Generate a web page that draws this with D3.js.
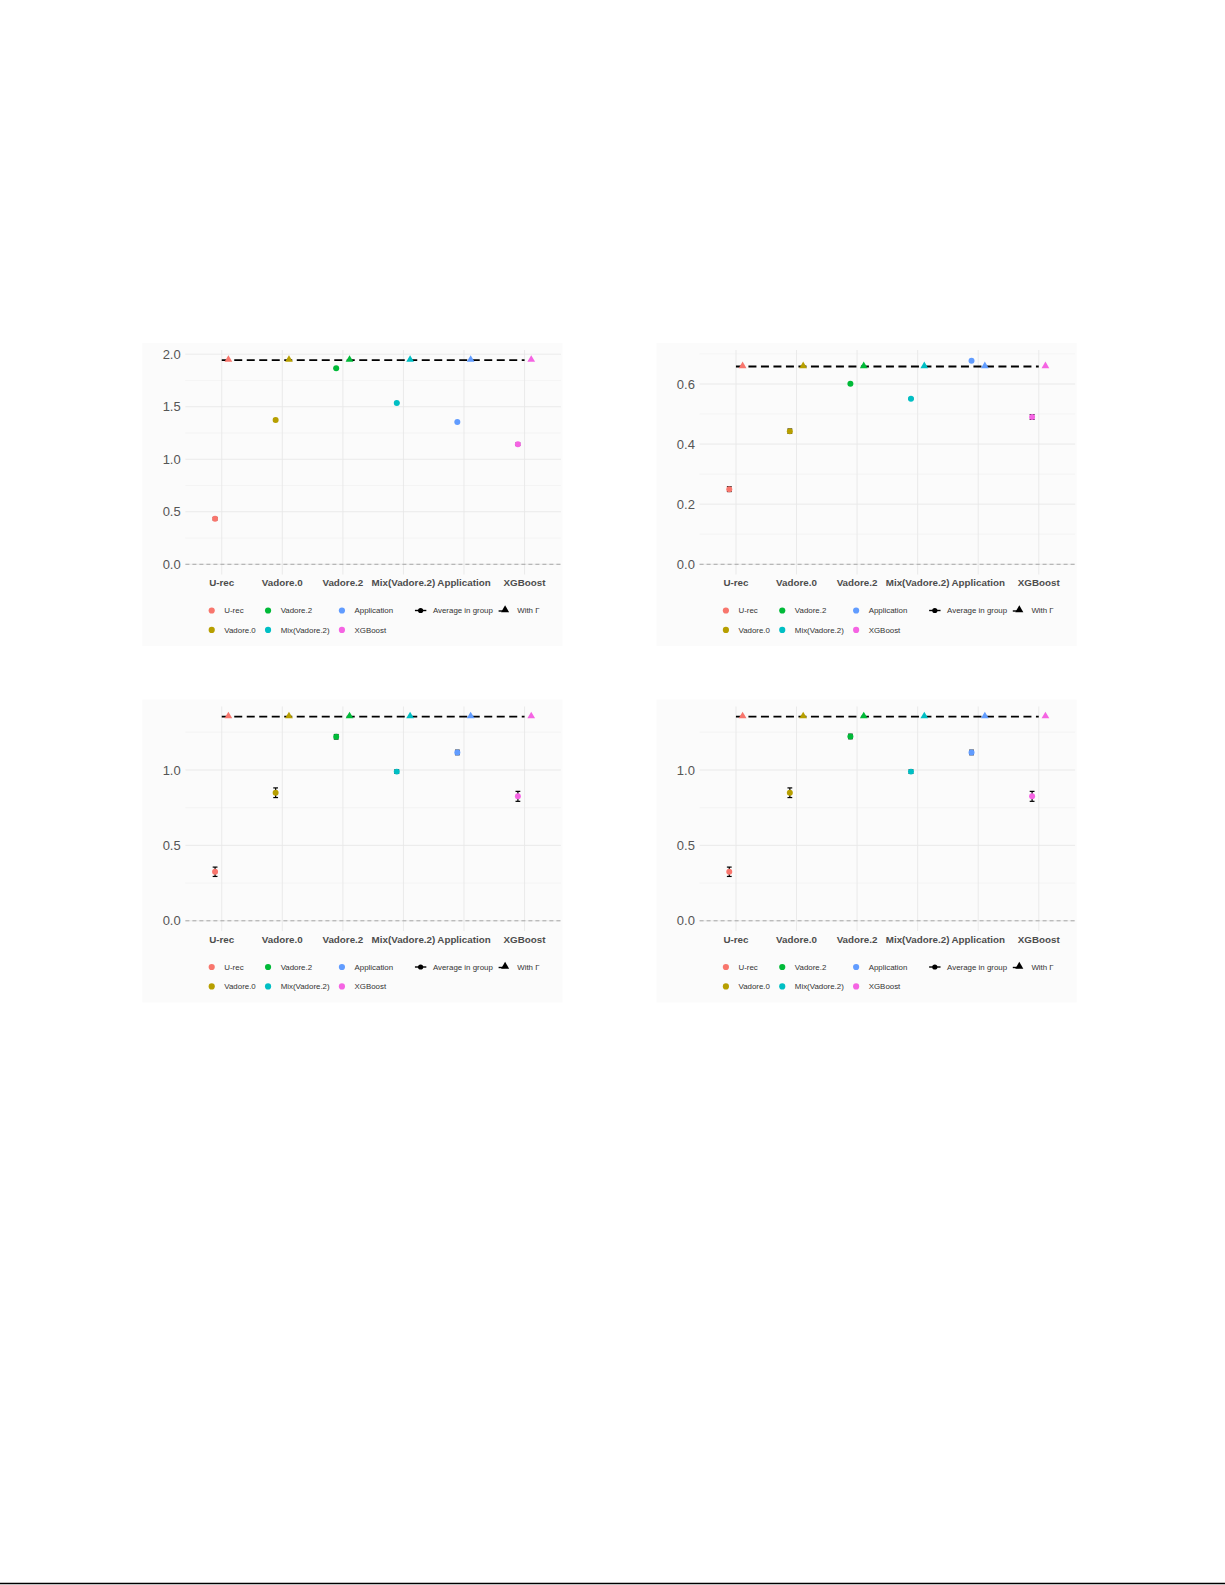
<!DOCTYPE html>
<html>
<head>
<meta charset="utf-8">
<script src="https://cdn.jsdelivr.net/npm/d3@7"></script>
<style>
  body { margin: 0; background: #fff; }
  svg { display: block; font-family: "Liberation Sans", Arial, sans-serif; }
</style>
</head>
<body>
<svg id="canvas" width="1225" height="1585"></svg>
<script>
let categories = ['U-rec', 'Vadore.0', 'Vadore.2', 'Mix(Vadore.2)', 'Application', 'XGBoost']
let palette = ['#F8766D', '#B79F00', '#00BA38', '#00BFC4', '#619CFF', '#F564E3']

// top left panel
let meanTopLeft = [0.434, 1.374, 1.867, 1.536, 1.355, 1.143]
let errTopLeft = [0.012, 0.010, 0.004, 0.004, 0.004, 0.012]
let gammaTopLeft = 1.943
let ticksTopLeft = [0, 0.5, 1.0, 1.5, 2.0]
let minorTopLeft = [0.25, 0.75, 1.25, 1.75]

// top right panel
let meanTopRight = [0.250, 0.443, 0.601, 0.551, 0.677, 0.490]
let errTopRight = [0.008, 0.007, 0.002, 0.002, 0.002, 0.008]
let gammaTopRight = 0.658
let ticksTopRight = [0, 0.2, 0.4, 0.6]
let minorTopRight = [0.1, 0.3, 0.5, 0.7]

// bottom left panel
let meanBottomLeft = [0.325, 0.849, 1.220, 0.989, 1.116, 0.825]
let errBottomLeft = [0.031, 0.032, 0.015, 0.012, 0.015, 0.033]
let gammaBottomLeft = 1.353
let ticksBottomLeft = [0, 0.5, 1.0]
let minorBottomLeft = [0.25, 0.75, 1.25]

// bottom right panel
let meanBottomRight = [0.325, 0.849, 1.222, 0.989, 1.116, 0.825]
let errBottomRight = [0.031, 0.032, 0.015, 0.012, 0.015, 0.033]
let gammaBottomRight = 1.353
let ticksBottomRight = [0, 0.5, 1.0]
let minorBottomRight = [0.25, 0.75, 1.25]

let legendLines = ['Average in group', 'With \u0393']

let svg = d3.select('#canvas')

let plotW = 375.5
let plotH = 224.5

let panels = [
    { left: 185.4, top: 350, mean: meanTopLeft, err: errTopLeft, gamma: gammaTopLeft, ticks: ticksTopLeft, minor: minorTopLeft },
    { left: 699.6, top: 350, mean: meanTopRight, err: errTopRight, gamma: gammaTopRight, ticks: ticksTopRight, minor: minorTopRight },
    { left: 185.4, top: 706.5, mean: meanBottomLeft, err: errBottomLeft, gamma: gammaBottomLeft, ticks: ticksBottomLeft, minor: minorBottomLeft },
    { left: 699.6, top: 706.5, mean: meanBottomRight, err: errBottomRight, gamma: gammaBottomRight, ticks: ticksBottomRight, minor: minorBottomRight }
]

let drawPanel = (p) => {
    let g = svg.append('g').attr('transform', 'translate(' + p.left + ',' + p.top + ')')

    g.append('rect')
        .attr('x', -43).attr('y', -7)
        .attr('width', 420).attr('height', 303)
        .attr('fill', '#fbfbfb')

    let x = d3.scalePoint().domain(categories).range([0, plotW]).padding(0.6)
    let dodge = x.step() * 0.11

    let lo = Math.min(0, d3.min(p.mean.map((m, i) => m - p.err[i])))
    let hi = Math.max(p.gamma, d3.max(p.mean.map((m, i) => m + p.err[i])))
    let pad = (hi - lo) * 0.05
    let y = d3.scaleLinear().domain([lo - pad, hi + pad]).range([plotH, 0])

    // grid
    g.selectAll('.minor').data(p.minor).enter().append('line')
        .attr('x1', 0).attr('x2', plotW)
        .attr('y1', d => y(d)).attr('y2', d => y(d))
        .attr('stroke', '#f0f0f0').attr('stroke-width', 0.6)
    g.selectAll('.major').data(p.ticks).enter().append('line')
        .attr('x1', 0).attr('x2', plotW)
        .attr('y1', d => y(d)).attr('y2', d => y(d))
        .attr('stroke', '#e8e8e8').attr('stroke-width', 0.9)
    g.selectAll('.vgrid').data(categories).enter().append('line')
        .attr('x1', d => x(d)).attr('x2', d => x(d))
        .attr('y1', 0).attr('y2', plotH)
        .attr('stroke', '#e8e8e8').attr('stroke-width', 0.9)

    // zero line
    g.append('line')
        .attr('x1', 0).attr('x2', plotW)
        .attr('y1', y(0)).attr('y2', y(0))
        .attr('stroke', '#a8a8a8').attr('stroke-width', 1)
        .attr('stroke-dasharray', '4,3')

    // y axis labels
    g.selectAll('.ylab').data(p.ticks).enter().append('text')
        .attr('x', -4.7).attr('y', d => y(d))
        .attr('dy', '0.36em')
        .attr('text-anchor', 'end')
        .attr('font-size', 13)
        .attr('fill', '#555')
        .text(d => d.toFixed(1))

    // x axis labels
    g.selectAll('.xlab').data(categories).enter().append('text')
        .attr('x', d => x(d)).attr('y', plotH + 11.6)
        .attr('text-anchor', 'middle')
        .attr('font-size', 9.8)
        .attr('font-weight', 'bold')
        .attr('fill', '#4d4d4d')
        .text(d => d)

    // average line through the gamma values
    g.append('path')
        .datum(categories)
        .attr('d', d3.line().x(d => x(d)).y(() => y(p.gamma)))
        .attr('fill', 'none')
        .attr('stroke', '#000')
        .attr('stroke-width', 1.8)
        .attr('stroke-dasharray', '8,4.5')

    // error bars
    let bars = g.selectAll('.err').data(categories).enter().append('g')
        .attr('stroke', '#000').attr('stroke-width', 1.2)
    bars.append('line')
        .attr('x1', d => x(d) - dodge).attr('x2', d => x(d) - dodge)
        .attr('y1', (d, i) => y(p.mean[i] - p.err[i]))
        .attr('y2', (d, i) => y(p.mean[i] + p.err[i]))
    bars.append('line')
        .attr('x1', d => x(d) - dodge - 2.4).attr('x2', d => x(d) - dodge + 2.4)
        .attr('y1', (d, i) => y(p.mean[i] - p.err[i]))
        .attr('y2', (d, i) => y(p.mean[i] - p.err[i]))
    bars.append('line')
        .attr('x1', d => x(d) - dodge - 2.4).attr('x2', d => x(d) - dodge + 2.4)
        .attr('y1', (d, i) => y(p.mean[i] + p.err[i]))
        .attr('y2', (d, i) => y(p.mean[i] + p.err[i]))

    // group means
    g.selectAll('.pt').data(categories).enter().append('path')
        .attr('d', d3.symbol().type(d3.symbolCircle).size(28))
        .attr('transform', (d, i) => 'translate(' + (x(d) - dodge) + ',' + y(p.mean[i]) + ')')
        .attr('fill', (d, i) => palette[i])

    // with gamma
    g.selectAll('.tri').data(categories).enter().append('path')
        .attr('d', d3.symbol().type(d3.symbolTriangle).size(26))
        .attr('transform', d => 'translate(' + (x(d) + dodge) + ',' + (y(p.gamma) - 0.6) + ')')
        .attr('fill', (d, i) => palette[i])

    // legend
    let leg = g.append('g')
        .attr('transform', 'translate(26.3,' + (plotH + 36) + ')')
        .attr('font-size', 7.9)
        .attr('fill', '#333')
    let rowGap = 19.4
    let cx = 0
    for (let c = 0; c < 3; c++) {
        let widest = 0
        for (let r = 0; r < 2; r++) {
            let k = c * 2 + r
            leg.append('path')
                .attr('d', d3.symbol().type(d3.symbolCircle).size(30))
                .attr('transform', 'translate(' + cx + ',' + (r * rowGap) + ')')
                .attr('fill', palette[k])
            let t = leg.append('text')
                .attr('x', cx + 12.6).attr('y', r * rowGap)
                .attr('dy', '0.35em')
                .text(categories[k])
            widest = Math.max(widest, t.node().getComputedTextLength())
        }
        cx += 12.6 + widest + (c < 2 ? 12.3 : 0)
    }
    // linetype key
    let k1 = cx + 27.5
    leg.append('line')
        .attr('x1', k1 - 5.7).attr('x2', k1 + 5.7)
        .attr('y1', 0).attr('y2', 0)
        .attr('stroke', '#000').attr('stroke-width', 1.4)
    leg.append('circle').attr('cx', k1).attr('cy', 0).attr('r', 2.6).attr('fill', '#000')
    let t1 = leg.append('text')
        .attr('x', k1 + 12.3).attr('y', 0).attr('dy', '0.35em')
        .text(legendLines[0])
    let k2 = k1 + 12.3 + t1.node().getComputedTextLength() + 11.7
    leg.append('line')
        .attr('x1', k2 - 6).attr('x2', k2)
        .attr('y1', 0.5).attr('y2', 0.5)
        .attr('stroke', '#000').attr('stroke-width', 1.4)
    leg.append('path')
        .attr('d', d3.symbol().type(d3.symbolTriangle).size(28))
        .attr('transform', 'translate(' + (k2 + 0.5) + ',-0.5)')
        .attr('fill', '#000')
    leg.append('text')
        .attr('x', k2 + 12.6).attr('y', 0).attr('dy', '0.35em')
        .text(legendLines[1])
}

panels.forEach(drawPanel)

// bottom rule of the page
svg.append('line')
    .attr('x1', 0).attr('x2', 1225)
    .attr('y1', 1583.6).attr('y2', 1583.6)
    .attr('stroke', '#000').attr('stroke-width', 1.5)
</script>
</body>
</html>
